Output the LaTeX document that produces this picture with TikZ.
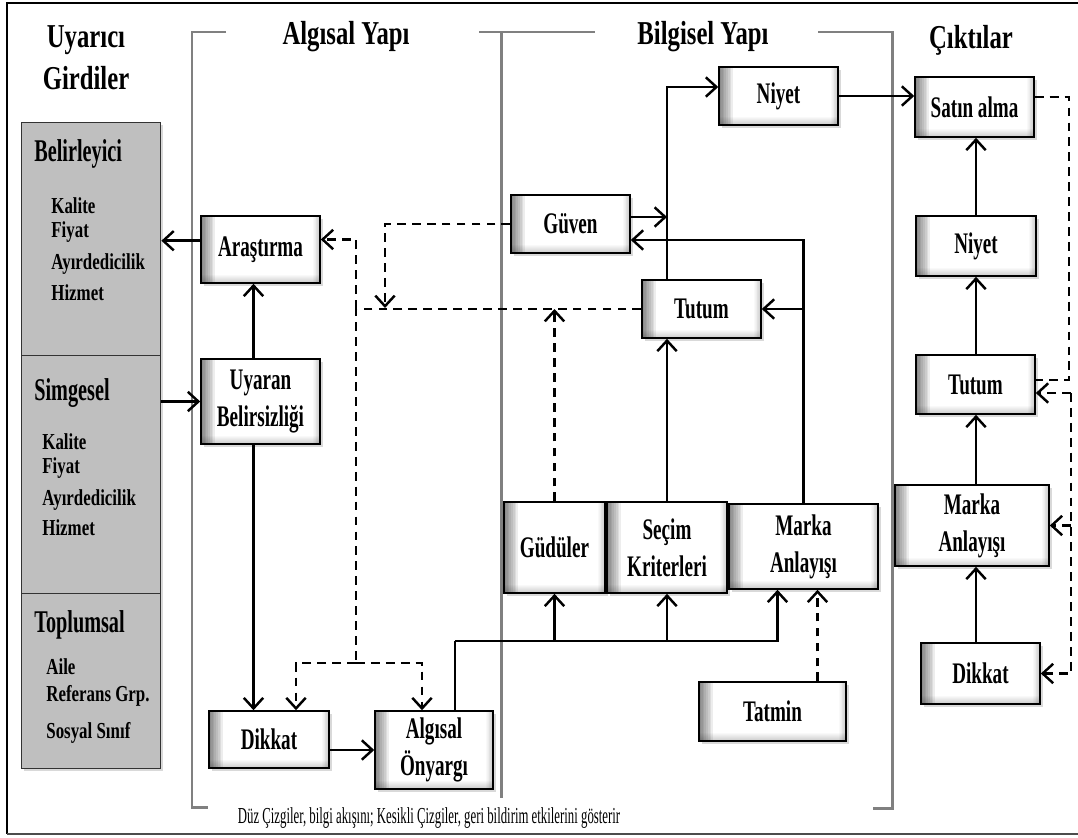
\documentclass[tikz,border=0pt]{standalone}
\usepackage{fontspec}
\setmainfont{Liberation Serif}
\newfontfamily\boxfont{Liberation Serif}[FakeStretch=0.64]
\newfontfamily\headfont{Liberation Serif}[FakeStretch=0.74]
\newfontfamily\notefont{Liberation Serif}[FakeStretch=0.56]
\usetikzlibrary{calc,arrows.meta,shadows}
\tikzset{
  bx/.style={draw=black,line width=0.9pt,fill=white,
    path picture={
      \foreach \i in {1,...,8}{
        \fill[black,opacity=0.07] (path picture bounding box.south west) rectangle ([xshift=\i pt]path picture bounding box.north west);
        \fill[black,opacity=0.025] (path picture bounding box.south west) rectangle ([yshift=0.6*\i pt]path picture bounding box.south east);
        \fill[black,opacity=0.025] (path picture bounding box.south east) rectangle ([xshift=-0.5*\i pt]path picture bounding box.north east);
      }
    },
    drop shadow={shadow xshift=1.5pt,shadow yshift=-1.5pt,opacity=0.3},
    font=\boxfont\bfseries\fontsize{17}{21}\selectfont,align=center,inner sep=1pt},
  bxg/.style={draw=black!80,line width=0.8pt,fill=black!25,anchor=north west,minimum width=2.78cm,inner sep=0pt,drop shadow={shadow xshift=1.5pt,shadow yshift=-1.5pt,opacity=0.3}},
  grp/.style={anchor=west,inner sep=0pt,font=\boxfont\bfseries\fontsize{18}{21}\selectfont},
  item/.style={anchor=west,inner sep=0pt,font=\headfont\bfseries\fontsize{13}{15}\selectfont},
  hd/.style={font=\headfont\bfseries\fontsize{19}{24}\selectfont,align=center,inner sep=0pt},
  ln/.style={-{Straight Barb[length=6pt,width=11pt]},line width=1.4pt},
  dln/.style={ln,dash pattern=on 5pt off 3.5pt},
  dsh/.style={line width=1.4pt,dash pattern=on 5pt off 3.5pt},
  brk/.style={draw=black!50,line width=1.7pt},
}
\begin{document}
\begin{tikzpicture}[x=0.02cm,y=-0.02cm]
  \useasboundingbox (0,0) rectangle (1078,838);
  % frame and brackets
  \draw[line width=1.4pt] (1078,3) -- (7,3) -- (7,834);
  \draw[black!70,line width=1pt] (7,834) -- (1078,834);
  \draw[brk] (226,32) -- (192,32) -- (192,807) -- (208,807);
  \draw[brk] (479,32) -- (595,32);
  \draw[brk] (501,32) -- (501,798);
  \draw[brk] (818,32) -- (892,32) -- (892,808) -- (873,808);
  % headings
  \node[hd] (hUyarici) at (86,58) {Uyarıcı\\Girdiler};
  \node[hd] (hAlgisal) at (346,37) {Algısal Yapı};
  \node[hd] (hBilgisel) at (703,37) {Bilgisel Yapı};
  \node[hd] (hCikti) at (971,40) {Çıktılar};
  % stimulus inputs
  \node[bxg,minimum height=4.66cm] (belir) at (21,122) {};
  \node[bxg,minimum height=4.76cm] (simge) at (21,355) {};
  \node[bxg,minimum height=3.5cm] (toplum) at (21,593) {};
  \node[grp] (tBelir) at (34,154) {Belirleyici};
  \node[grp] (tSimge) at (34,393) {Simgesel};
  \node[grp] (tToplum) at (34,625) {Toplumsal};
  \foreach \t/\yy in {Kalite/206,Fiyat/232,Ayırdedicilik/264,Hizmet/293}
    \node[item] (ia\yy) at (51,\yy) {\t};
  \foreach \t/\yy in {Kalite/442,Fiyat/468,Ayırdedicilik/500,Hizmet/528}
    \node[item] (ib\yy) at (42,\yy) {\t};
  \foreach \t/\yy in {Aile/667,Referans Grp./696,Sosyal Sınıf/733}
    \node[item] (ic\yy) at (46,\yy) {\t};
  % perceptual constructs
  \node[bx,minimum width=2.38cm,minimum height=1.34cm] (arastirma) at (260.5,249.5) {Araştırma};
  \node[bx,minimum width=2.38cm,minimum height=1.7cm] (uyaran) at (260.5,401.5) {Uyaran\\Belirsizliği};
  \node[bx,minimum width=2.4cm,minimum height=1.14cm] (dikkatA) at (269,739.5) {Dikkat};
  \node[bx,minimum width=2.36cm,minimum height=1.56cm] (onyargi) at (434,750) {Algısal\\Önyargı};
  % learning constructs
  \node[bx,minimum width=2.38cm,minimum height=1.16cm] (guven) at (570.5,224) {Güven};
  \node[bx,minimum width=2.38cm,minimum height=1.16cm] (niyetB) at (778.5,96) {Niyet};
  \node[bx,minimum width=2.38cm,minimum height=1.16cm] (tutumB) at (701.5,309) {Tutum};
  \node[bx,minimum width=2.02cm,minimum height=1.82cm] (guduler) at (554.5,547.5) {Güdüler};
  \node[bx,minimum width=2.4cm,minimum height=1.82cm] (secim) at (667,547.5) {Seçim\\Kriterleri};
  \node[bx,minimum width=2.98cm,minimum height=1.7cm] (markaB) at (803.5,546.5) {Marka\\Anlayışı};
  \node[bx,minimum width=2.94cm,minimum height=1.18cm] (tatmin) at (772.5,711.5) {Tatmin};
  % outputs
  \node[bx,minimum width=2.38cm,minimum height=1.2cm] (satin) at (974.5,107) {Satın alma};
  \node[bx,minimum width=2.4cm,minimum height=1.2cm] (niyetC) at (976,246) {Niyet};
  \node[bx,minimum width=2.38cm,minimum height=1.18cm] (tutumC) at (975.5,384.5) {Tutum};
  \node[bx,minimum width=3.08cm,minimum height=1.62cm] (markaC) at (972,525.5) {Marka\\Anlayışı};
  \node[bx,minimum width=2.38cm,minimum height=1.22cm] (dikkatC) at (980.5,673.5) {Dikkat};
  \node[font=\notefont\fontsize{13}{15}\selectfont,inner sep=0pt] (note) at (429,818)
    {Düz Çizgiler, bilgi akışını; Kesikli Çizgiler, geri bildirim etkilerini gösterir};
  % junction points
  \coordinate (bus) at (455,641);
  \coordinate (fbx) at (356,663);
  \coordinate (gvdrop) at (385,308);
  \coordinate (fbr1) at (1069,380);
  \coordinate (fbr2) at (1071,393);
  % information flow
  \draw[ln] ([yshift=5pt]arastirma.west) coordinate (a1) -- (a1 -| belir.east);
  \draw[ln] (simge.east |- uyaran.west) -- (uyaran.west);
  \draw[ln] ($(uyaran.north)+(-7,0)$) coordinate (u0) -- (u0 |- arastirma.south);
  \draw[ln] ($(uyaran.south)+(-7,0)$) coordinate (u1) -- (u1 |- dikkatA.north);
  \draw[ln] (dikkatA.east |- onyargi.west) -- (onyargi.west);
  \draw[line width=1.4pt] (onyargi.north -| bus) -- (bus);
  \draw[ln] (bus) -| ($(markaB.south)+(-26,0)$);
  \draw[ln] (guduler.south |- bus) -- (guduler.south);
  \draw[ln] (secim.south |- bus) -- (secim.south);
  \draw[ln] (secim.north) -- (secim.north |- tutumB.south);
  \draw[ln] (secim.north |- tutumB.north) |- ($(niyetB.west)+(0,-9)$);
  \draw[ln] ($(guven.east)+(0,-7)$) coordinate (g1) -- (g1 -| secim.north);
  \draw[ln] (markaB.north) |- ($(guven.east)+(0,16)$);
  \draw[ln] (markaB.north |- tutumB.east) -- (tutumB.east);
  \draw[ln] (niyetB.east) -- (niyetB.east -| satin.west);
  \foreach \a/\b in {niyetC/satin,tutumC/niyetC,markaC/tutumC,dikkatC/markaC}
    \draw[ln] (\a.north -| niyetC.north) -- (\b.south -| niyetC.north);
  % feedback
  \draw[dsh] (tutumB.west) -| (fbx);
  \draw[dln] (fbx |- tutumB.west) |- ($(arastirma.east)+(0,-10)$);
  \draw[dln] (fbx) -| ($(dikkatA.north)+(27,0)$);
  \draw[dln] (fbx) -| ($(onyargi.north)+(-12,0)$);
  \draw[dln] (guven.west) -| (gvdrop);
  \draw[dln] (guduler.north) -- (guduler.north |- tutumB.west);
  \draw[dln] ($(tatmin.north)+(45,0)$) coordinate (t1) -- (t1 |- markaB.south);
  \draw[dsh] ($(satin.east)+(0,-10)$) -| (fbr1) -- (fbr1 -| tutumC.east);
  \draw[dln] (fbr2) -- (fbr2 -| tutumC.east);
  \draw[dln] (fbr2 |- markaC.east) -- (markaC.east);
  \draw[dln] (fbr2) |- (dikkatC.east);
\end{tikzpicture}
\end{document}
